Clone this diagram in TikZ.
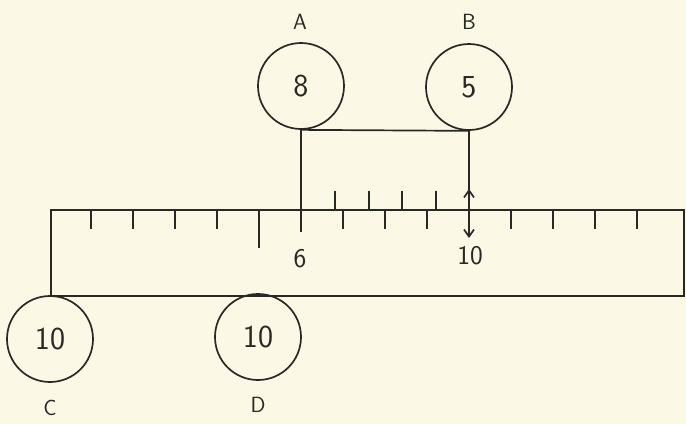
\documentclass[tikz,border=0pt]{standalone}
\usepackage{fontspec}
\usepackage{tikz}
\usetikzlibrary{calc, positioning, arrows.meta}
\definecolor{paper}{RGB}{251,249,229}
\definecolor{ink}{RGB}{40,40,36}

\begin{document}
\begin{tikzpicture}[
  x=1pt, y=-1pt,
  every path/.style={line width=1.7pt},
  wheel/.style={draw=ink, line width=1.7pt, circle, minimum size=86pt, inner sep=0pt, text=ink, font=\sffamily\fontsize{32}{32}\selectfont},
  tag/.style={text=ink, inner sep=0pt, font=\sffamily\fontsize{22}{22}\selectfont},
  num/.style={text=ink, inner sep=0pt, font=\sffamily\fontsize{27}{27}\selectfont},
  tip/.style={-{Straight Barb[length=7pt,width=10pt]}}
]
\fill[paper] (0,0) rectangle (686,424);
\useasboundingbox (0,0) rectangle (686,424);

% scale bar
\node[draw=ink, line width=1.7pt, minimum width=633pt, minimum height=86pt, inner sep=0pt, anchor=north west] (ruler) at (50,209) {};
\foreach \x in {91,133,175,217,343,385,427,511,553,595,637}
  \draw[ink] (\x,209) -- (\x,229);
\draw[ink] (259,209) -- (259,248);
\foreach \x in {335,369,402,436}
  \draw[ink] (\x,209) -- (\x,191);

% weights
\node[wheel] (A) at (301,86)  {8};
\node[wheel] (B) at (469,87)  {5};
\node[wheel] (C) at (50,339)  {10};
\node[wheel] (D) at (258,337) {10};

\node[tag] (labA) at (300,22)  {A};
\node[tag] (labB) at (469,22)  {B};
\node[tag] (labC) at (50,408)  {C};
\node[tag] (labD) at (258,405) {D};

\node[num] (six) at (300,259) {6};
\node[num] (ten) at (470,256) {10};

% hangers
\coordinate (endA) at (301,232);
\coordinate (endB) at (469,238);
\coordinate (baseB) at (469,214);
\coordinate (topB) at (469,189);
\draw[ink] (A.south) -- (B.south);
\draw[ink] (A.south) -- (endA);
\draw[ink, tip] (B.south) -- (endB);
\draw[ink, tip] (baseB) -- (topB);
\end{tikzpicture}
\end{document}
